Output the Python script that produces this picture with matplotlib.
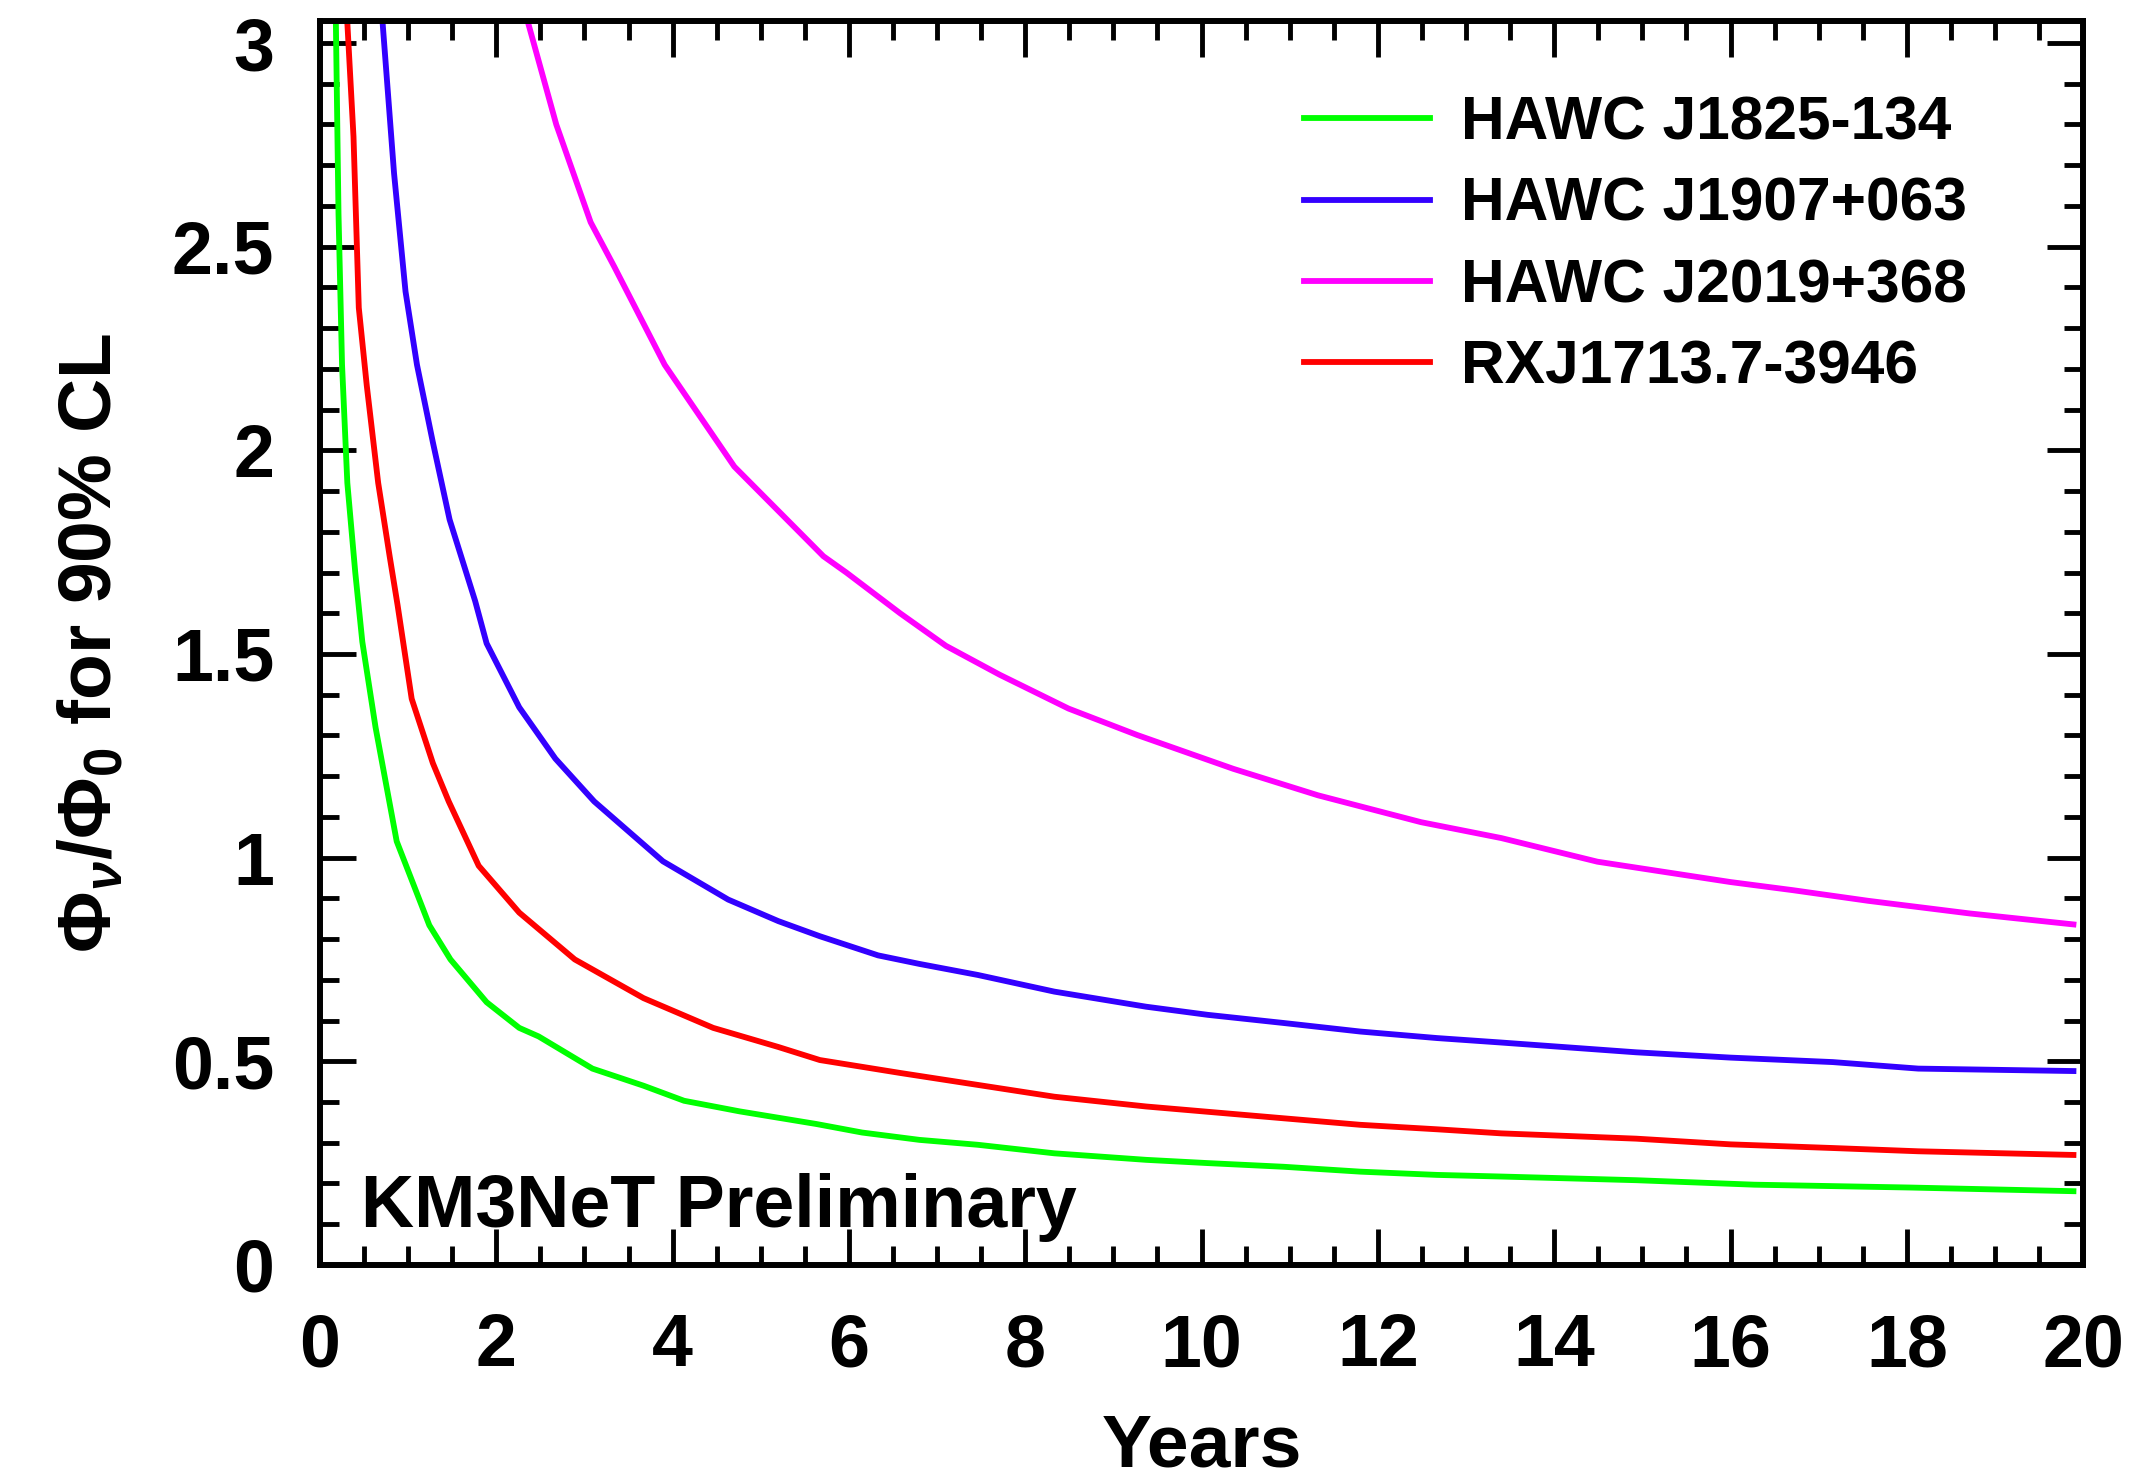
import matplotlib
matplotlib.use("Agg")
import matplotlib.pyplot as plt
from matplotlib.ticker import MultipleLocator

plt.rcParams['font.family'] = ['Liberation Sans', 'DejaVu Sans']
plt.rcParams['font.weight'] = 'bold'
plt.rcParams['mathtext.fontset'] = 'custom'
plt.rcParams['mathtext.rm'] = 'Liberation Sans'
plt.rcParams['mathtext.it'] = 'Liberation Sans:italic'
plt.rcParams['mathtext.bf'] = 'Liberation Sans:bold'

# values (years, flux ratio)
green_x = [0.18, 0.21, 0.25, 0.31, 0.40, 0.48, 0.63, 0.87, 1.24, 1.48, 1.89, 2.26, 2.48,
           3.09, 3.67, 4.13, 4.76, 5.63, 6.15, 6.80, 7.46, 8.33, 9.37, 10.07, 10.93,
           11.8, 12.67, 13.4, 14.93, 16.27, 18.04, 19.89]
green_y = [3.05, 2.58, 2.21, 1.92, 1.70, 1.53, 1.32, 1.04, 0.834, 0.75, 0.645, 0.582, 0.561,
           0.482, 0.44, 0.403, 0.377, 0.346, 0.325, 0.307, 0.295, 0.274, 0.258, 0.250, 0.241,
           0.229, 0.221, 0.217, 0.208, 0.197, 0.19, 0.181]

blue_x = [0.71, 0.84, 0.97, 1.10, 1.28, 1.47, 1.76, 1.89, 2.26, 2.67, 3.11, 3.89, 4.63,
          5.2, 5.67, 6.33, 6.80, 7.46, 8.33, 9.37, 10.07, 10.93, 11.8, 12.67, 13.4,
          14.93, 16.0, 17.16, 18.13, 19.89]
blue_y = [3.05, 2.68, 2.39, 2.21, 2.02, 1.83, 1.63, 1.526, 1.369, 1.243, 1.138, 0.991, 0.897,
          0.844, 0.807, 0.76, 0.739, 0.712, 0.671, 0.634, 0.614, 0.594, 0.573, 0.557, 0.546,
          0.522, 0.509, 0.498, 0.482, 0.476]

magenta_x = [2.36, 2.68, 3.07, 3.34, 3.91, 4.70, 5.71, 5.97, 6.58, 7.10, 7.71, 8.49, 9.27,
             10.36, 11.32, 12.49, 13.40, 14.49, 16.0, 16.71, 17.56, 18.71, 19.89]
magenta_y = [3.05, 2.80, 2.56, 2.45, 2.21, 1.96, 1.74, 1.70, 1.60, 1.52, 1.449, 1.366, 1.301,
             1.218, 1.153, 1.087, 1.048, 0.99, 0.94, 0.92, 0.894, 0.863, 0.836]

red_x = [0.31, 0.38, 0.44, 0.53, 0.66, 0.79, 0.88, 1.04, 1.28, 1.46, 1.80, 2.26, 2.89,
         3.67, 4.46, 5.2, 5.67, 6.59, 7.46, 8.33, 9.37, 10.07, 10.93, 11.8, 12.67, 13.4,
         14.93, 16.0, 17.16, 18.13, 19.89]
red_y = [3.05, 2.77, 2.35, 2.16, 1.92, 1.74, 1.62, 1.39, 1.232, 1.138, 0.98, 0.865, 0.75,
         0.655, 0.582, 0.535, 0.503, 0.471, 0.442, 0.413, 0.389, 0.376, 0.360, 0.344, 0.333,
         0.323, 0.31, 0.296, 0.287, 0.279, 0.27]

labels = ['HAWC J1825-134', 'HAWC J1907+063', 'HAWC J2019+368', 'RXJ1713.7-3946']
colors = ['#00ff00', '#3300ff', '#ff00ff', '#ff0000']

fig = plt.figure(figsize=(21.52, 14.81), dpi=100)
ax = fig.add_axes([0.1487, 0.1459, 0.8193, 0.8399])

series = [(green_x, green_y), (blue_x, blue_y), (magenta_x, magenta_y), (red_x, red_y)]
for (xs, ys), lab, col in zip(series, labels, colors):
    ax.plot(xs, ys, color=col, lw=4.2, label=lab, solid_joinstyle='round')

ax.set_xlim(0, 20)
ax.set_ylim(0, 3.054)
ax.xaxis.set_major_locator(MultipleLocator(2))
ax.xaxis.set_minor_locator(MultipleLocator(0.5))
ax.yaxis.set_major_locator(MultipleLocator(0.5))
ax.yaxis.set_minor_locator(MultipleLocator(0.1))
ax.yaxis.set_major_formatter(plt.FuncFormatter(lambda v, p: ('%g' % v)))

ax.tick_params(which='both', direction='in', top=True, right=True, width=3.5)
ax.tick_params(which='major', length=26)
ax.tick_params(which='minor', length=14)
ax.tick_params(axis='x', which='major', labelsize=53, pad=34)
ax.tick_params(axis='y', which='major', labelsize=53, pad=33)
for s in ax.spines.values():
    s.set_linewidth(4.3)

ax.set_xlabel('Years', fontsize=54, fontweight='bold')
ax.xaxis.set_label_coords(0.5, -0.119)
ax.set_ylabel(r'$\Phi_{\nu}\mathbf{/}\Phi_{0}$ for 90% CL', fontsize=54, fontweight='bold')
ax.yaxis.set_label_coords(-0.11, 0.5)

ax.text(0.47, 0.093, 'KM3NeT Preliminary', fontsize=53, fontweight='bold')

ax.legend(loc='upper left', bbox_to_anchor=(0.558, 0.94), frameon=False, fontsize=43.6,
          handlelength=2.08, handletextpad=0.52, labelspacing=0.4, borderaxespad=0,
          borderpad=0)

fig.savefig('out.png', dpi=100)
